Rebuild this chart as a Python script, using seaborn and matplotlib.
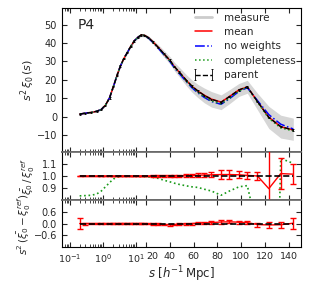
import numpy as np
import pandas as pd
import matplotlib
matplotlib.use("Agg")
import matplotlib.pyplot as plt
import seaborn as sns
from matplotlib.ticker import FixedLocator, FixedFormatter, NullFormatter
from matplotlib.lines import Line2D

# ---------------- data ----------------
s = [0.2, 0.3, 0.45, 0.65, 0.9, 1.2, 1.6, 2.1, 2.7, 3.4, 4.3, 5.5, 7.0, 9.0,
     11.5, 14.5, 18.0, 22.0, 26.0, 30.5, 35.0, 40.0, 44.0, 48.0, 54.0, 58.6,
     63.6, 69.0, 75.0, 83.0, 90.0, 98.0, 105.0, 113.5, 123.0, 133.0, 143.5]

parent = [1.5, 2.0, 2.4, 3.0, 4.0, 6.3, 10.3, 16.5, 22.5, 27.5, 31.5, 34.8,
          38.2, 41.2, 43.1, 44.3, 44.2, 43.0, 40.6, 37.6, 34.3, 30.8, 27.2,
          24.3, 19.8, 16.7, 14.0, 11.6, 9.5, 7.9, 10.9, 14.6, 16.3, 8.3, -0.3,
          -5.3, -7.2]
parent_err = [0.3, 0.3, 0.3, 0.3, 0.3, 0.3, 0.4, 0.4, 0.4, 0.4, 0.4, 0.4,
              0.4, 0.4, 0.4, 0.4, 0.4, 0.4, 0.4, 0.4, 0.4, 0.4, 0.4, 0.4, 0.4,
              0.4, 0.4, 0.4, 0.4, 0.4, 0.4, 0.4, 0.4, 0.4, 0.4, 0.4, 0.4]
mean = [1.5, 2.0, 2.4, 3.0, 4.0, 6.3, 10.3, 16.5, 22.5, 27.5, 31.5, 34.8,
        38.2, 41.2, 43.1, 44.3, 44.2, 43.0, 40.6, 37.6, 34.2, 30.7, 27.1,
        24.2, 19.7, 16.6, 14.0, 11.7, 9.6, 8.0, 11.0, 14.6, 16.2, 8.4, -0.2,
        -5.4, -7.1]
noweights = [1.5, 2.0, 2.4, 3.0, 4.0, 6.3, 10.3, 16.5, 22.5, 27.5, 31.5, 34.8,
             38.2, 41.2, 43.1, 44.3, 44.1, 42.8, 40.3, 37.2, 33.8, 30.2, 26.5,
             23.5, 19.0, 15.8, 13.0, 10.5, 8.3, 6.8, 9.8, 13.8, 15.8, 8.8, 1.2,
             -4.0, -6.6]
completeness = [1.5, 2.0, 2.4, 3.0, 4.0, 6.3, 10.3, 16.5, 22.5, 27.5, 31.5,
                34.8, 38.2, 41.2, 43.1, 44.3, 44.2, 42.9, 40.5, 37.4, 34.0,
                30.4, 26.8, 23.9, 19.3, 16.2, 13.4, 10.8, 8.6, 7.0, 10.0, 14.0,
                16.0, 8.0, -0.8, -6.0, -7.6]
measure_lo = [1.2, 1.7, 2.1, 2.7, 3.6, 5.8, 9.8, 16.0, 21.8, 26.8, 30.8, 34.1,
              37.5, 40.5, 42.3, 43.5, 43.3, 42.0, 39.4, 36.1, 32.5, 28.8, 24.9,
              21.7, 16.8, 13.4, 10.4, 7.6, 5.3, 3.9, 7.1, 11.1, 12.8, 3.8,
              -6.3, -11.5, -12.7]
measure_hi = [1.8, 2.3, 2.7, 3.3, 4.4, 6.8, 10.8, 17.0, 23.2, 28.2, 32.2, 35.5,
              38.9, 41.9, 43.9, 45.1, 45.1, 44.0, 41.8, 39.1, 36.1, 32.8, 29.5,
              26.9, 22.8, 20.0, 17.6, 15.6, 13.7, 11.9, 14.7, 18.1, 19.8, 12.8,
              5.7, 0.9, -0.7]

ratio_mean = [1.0, 1.0, 1.0, 1.0, 1.0, 1.0, 1.0, 1.0, 1.0, 1.0, 1.0, 1.0, 1.0,
              1.0, 1.0, 1.0, 1.0, 1.0, 1.0, 1.0, 1.0, 1.0, 1.0, 1.0, 1.002,
              1.005, 1.006, 1.008, 1.01, 1.012, 1.012, 1.01, 1.005, 1.0, 0.895,
              1.02, 1.015]
ratio_err = [0.004, 0.004, 0.004, 0.004, 0.004, 0.004, 0.004, 0.004, 0.004,
             0.004, 0.004, 0.004, 0.004, 0.004, 0.004, 0.004, 0.004, 0.004,
             0.005, 0.006, 0.007, 0.008, 0.009, 0.01, 0.012, 0.014, 0.016,
             0.018, 0.022, 0.035, 0.035, 0.03, 0.03, 0.035, 0.45, 0.13, 0.085]
ratio_parent = [1.0] * len(s)
ratio_comp = [0.835, 0.837, 0.84, 0.85, 0.875, 0.91, 0.945, 0.975, 0.99,
              0.997, 0.998, 0.998, 0.997, 0.997, 0.996, 0.995, 0.994, 0.992,
              0.988, 0.98, 0.965, 0.952, 0.94, 0.93, 0.918, 0.91, 0.905, 0.89,
              0.875, 0.84, 0.875, 0.91, 0.92, 0.55, -3.0, 1.145, 1.105]

diff_mean = [0.0, 0.0, 0.0, 0.0, 0.0, 0.0, 0.0, 0.0, 0.0, 0.0, 0.0, 0.0, 0.0,
             0.0, 0.0, 0.0, 0.0, -0.01, -0.02, -0.03, -0.05, -0.06, -0.05,
             -0.03, -0.02, 0.0, 0.02, 0.03, 0.05, 0.08, 0.09, 0.07, 0.05,
             -0.05, -0.07, -0.06, 0.02]
diff_err = [0.3, 0.05, 0.03, 0.02, 0.02, 0.02, 0.02, 0.02, 0.02, 0.02, 0.02,
            0.02, 0.02, 0.02, 0.02, 0.02, 0.025, 0.03, 0.03, 0.035, 0.04, 0.04,
            0.045, 0.05, 0.05, 0.055, 0.06, 0.065, 0.07, 0.08, 0.08, 0.08,
            0.08, 0.1, 0.13, 0.16, 0.28]
diff_parent = [0.0] * len(s)

xmajor = [0.1, 1, 10, 20, 40, 60, 80, 100, 120, 140]
xmajor_labels = [r"$10^{-1}$", r"$10^{0}$", r"$10^{1}$", "20", "40", "60",
                 "80", "100", "120", "140"]

# ---------------- style ----------------
sns.set_style("ticks")
plt.rcParams.update({
    "font.family": ["DejaVu Sans"],
    "xtick.direction": "in", "ytick.direction": "in",
    "xtick.top": True, "ytick.right": True,
    "xtick.major.size": 3.5, "ytick.major.size": 3.5,
    "xtick.minor.size": 2, "ytick.minor.size": 2,
    "xtick.labelsize": 6.8, "ytick.labelsize": 7,
    "axes.linewidth": 0.8, "axes.edgecolor": "black",
})

S0 = 20.0
K = 27.7


def fwd(x):
    x = np.asarray(x, dtype=float)
    return np.where(x <= S0, np.log10(np.clip(x, 1e-12, None)),
                    np.log10(S0) + (x - S0) / K)


def inv(y):
    y = np.asarray(y, dtype=float)
    ls = np.log10(S0)
    return np.where(y <= ls, 10 ** np.minimum(y, ls), S0 + (y - ls) * K)


minors = [m * 10.0 ** d for d in (-2, -1, 0, 1) for m in range(2, 10)
          if m * 10.0 ** d < S0]

fig = plt.figure(figsize=(3.11, 2.85), dpi=100)
ax1 = fig.add_axes([0.199, 0.467, 0.769, 0.505])
ax2 = fig.add_axes([0.199, 0.298, 0.769, 0.169])
ax3 = fig.add_axes([0.199, 0.133, 0.769, 0.165])

for ax in (ax1, ax2, ax3):
    ax.set_xscale("function", functions=(fwd, inv))
    ax.set_xlim(0.058, 150)
    ax.xaxis.set_major_locator(FixedLocator(xmajor))
    ax.xaxis.set_minor_locator(FixedLocator(minors))
    ax.xaxis.set_minor_formatter(NullFormatter())

df = pd.DataFrame({"s": s, "mean": mean, "noweights": noweights,
                   "completeness": completeness})

# ---- top panel ----
ax1.fill_between(s, measure_lo, measure_hi, color="#d6d6d6", lw=0, zorder=1)
sns.lineplot(data=df, x="s", y="mean", color="red", lw=1.1, ax=ax1,
             estimator=None, sort=False, zorder=3)
sns.lineplot(data=df, x="s", y="noweights", color="blue", lw=1.1, ax=ax1,
             estimator=None, sort=False, linestyle="-.", zorder=3)
sns.lineplot(data=df, x="s", y="completeness", color="#1a9a1a", lw=1.1,
             ax=ax1, estimator=None, sort=False, linestyle=":", zorder=3)
eb = ax1.errorbar(s, parent, yerr=parent_err, fmt="--", color="black", lw=1.0,
                  elinewidth=0.6, capsize=1.0, capthick=0.6, zorder=4)
ax1.set_ylim(-19, 59)
ax1.set_yticks([-10, 0, 10, 20, 30, 40, 50])
ax1.set_yticklabels(["\u221210", "0", "10", "20", "30", "40", "50"])
ax1.set_xticklabels([])
ax1.set_ylabel(r"$s^2\,\xi_0\,(s)$", fontsize=8)
ax1.yaxis.set_label_coords(-0.105, 0.5)
ax1.text(0.065, 0.88, "P4", transform=ax1.transAxes, fontsize=10,
         va="center", ha="left")

handles = [Line2D([], [], color="#cccccc", lw=2),
           Line2D([], [], color="red", lw=1.1),
           Line2D([], [], color="blue", lw=1.1, linestyle="-."),
           Line2D([], [], color="#1a9a1a", lw=1.1, linestyle=":"),
           eb]
labels = ["measure", "mean", "no weights", "completeness", "parent"]
ax1.legend(handles, labels, loc="upper right", frameon=False, fontsize=7.5,
           numpoints=2, handlelength=2.2, labelspacing=0.42,
           borderaxespad=0.05, handletextpad=0.8)

# ---- middle panel ----
ax2.errorbar(s, ratio_mean, yerr=ratio_err, color="red", lw=1.0,
             elinewidth=1.0, capsize=2, zorder=3)
ax2.plot(s, ratio_parent, "--", color="black", lw=1.2, zorder=4)
ax2.plot(s, ratio_comp, ":", color="#1a9a1a", lw=1.2, zorder=2)
ax2.set_ylim(0.8, 1.2)
ax2.set_yticks([0.9, 1.0, 1.1])
ax2.set_xticklabels([])
ax2.set_ylabel(r"$\bar{\xi_0}\,/\,\xi_0^{ref}$", fontsize=7.5)
ax2.yaxis.set_label_coords(-0.105, 0.5)

# ---- bottom panel ----
ax3.errorbar(s, diff_mean, yerr=diff_err, color="red", lw=1.0,
             elinewidth=1.0, capsize=2, zorder=3)
ax3.plot(s, diff_parent, "--", color="black", lw=1.2, zorder=4)
ax3.set_ylim(-1.2, 1.2)
ax3.set_yticks([-0.6, 0.0, 0.6])
ax3.set_yticklabels(["\u22120.6", "0.0", "0.6"])
ax3.xaxis.set_major_formatter(FixedFormatter(xmajor_labels))
ax3.set_ylabel(r"$s^2\,(\bar{\xi_0}-\xi_0^{ref})$", fontsize=7.5)
ax3.yaxis.set_label_coords(-0.12, 0.5)
ax3.set_xlabel(r"$s\ [h^{-1}\,\mathrm{Mpc}]$", fontsize=8.5, labelpad=0)

# keep "10^1" and "20" side by side without overlapping
ticks = ax3.xaxis.get_major_ticks()
ticks[3].label1.set_horizontalalignment("left")

for a, sp in ((ax1, "bottom"), (ax2, "top"), (ax2, "bottom"), (ax3, "top")):
    a.spines[sp].set_color("0.4")
    a.spines[sp].set_linewidth(1.2)

fig.savefig("out.png", dpi=100)
